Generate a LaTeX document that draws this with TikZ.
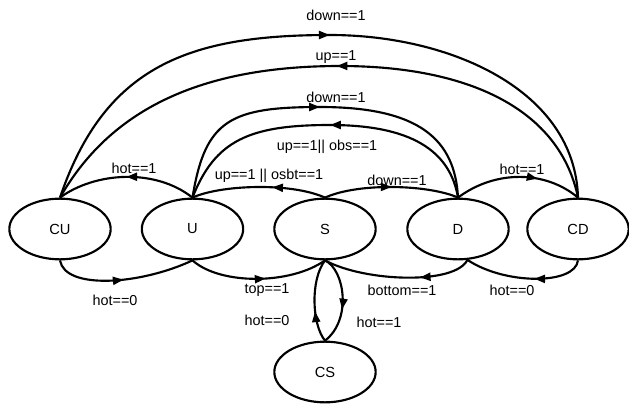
\documentclass[tikz,border=0pt]{standalone}
\usepackage{fontspec}
\setmainfont{Liberation Sans}
\usetikzlibrary{shapes.geometric,decorations.markings,arrows.meta}
\begin{document}
\begin{tikzpicture}[x=0.75pt,y=-0.75pt,
  state/.style={draw,ellipse,line width=1.6pt,minimum width=76pt,minimum height=45.5pt,inner sep=0pt,font=\fontsize{11}{13}\selectfont},
  edge/.style={line width=1.6pt},
  lbl/.style={font=\fontsize{10.8}{13}\selectfont,inner sep=0pt},
  amark/.style={postaction={decorate},decoration={markings,mark=at position #1 with {\arrow{Triangle[length=8pt,width=6pt]}}}}]
\useasboundingbox (0,0) rectangle (629,404);
\node[state] (CU) at (60,229) {CU};
\node[state] (U) at (192.5,229) {U};
\node[state] (S) at (325,229) {S};
\node[state] (D) at (458,229) {D};
\node[state] (CD) at (578,229) {CD};
\node[state] (CS) at (325,372) {CS};
% top long arcs
\coordinate (p1) at (330,35);
\draw[edge,amark=0.999] (CU.north) .. controls (105,65) and (190,35) .. (p1);
\draw[edge] (p1) .. controls (450,35) and (575,90) .. (CD.north);
\coordinate (p2) at (340,66);
\draw[edge] (CD.north) .. controls (560,110) and (470,66) .. (p2);
\draw[edge,amark=0.01] (p2) .. controls (200,66) and (110,110) .. (CU.north);
\coordinate (p3) at (320,107);
\draw[edge,amark=0.999] (U.north) .. controls (205,120) and (230,107) .. (p3);
\draw[edge] (p3) .. controls (420,107) and (455,140) .. (D.north);
\coordinate (p4) at (330,125);
\draw[edge,amark=0.999] (D.north) .. controls (450,150) and (410,125) .. (p4);
\draw[edge] (p4) .. controls (250,125) and (215,140) .. (U.north);
% neighbour arcs
\draw[edge,amark=0.5] (U.north) .. controls (155,168) and (95,172) .. (CU.north);
\draw[edge,amark=0.4] (S.north) .. controls (290,182) and (220,185) .. (U.north);
\draw[edge,amark=0.5] (S.north) .. controls (360,182) and (430,185) .. (D.north);
\draw[edge,amark=0.65] (D.north) .. controls (495,170) and (545,170) .. (CD.north);
% bottom arcs
\draw[edge,amark=0.5] (CU.south) .. controls (65,290) and (140,285) .. (U.south);
\draw[edge,amark=0.55] (U.south) .. controls (220,285) and (290,285) .. (S.south);
\draw[edge,amark=0.35] (D.-73) .. controls (455,285) and (365,282) .. (S.south);
\draw[edge,amark=0.42] (CD.south) .. controls (575,285) and (505,285) .. (D.-73);
\draw[edge,amark=0.37] (CS.north) .. controls (312,325) and (310,280) .. (S.south);
\draw[edge,amark=0.6] (S.south) .. controls (345,270) and (352,320) .. (CS.north);
% labels
\node[lbl] (l1) at (336,15) {down==1};
\node[lbl] (l2) at (336,57) {up==1};
\node[lbl] (l3) at (336,97) {down==1};
\node[lbl] (l4) at (327,147) {up==1|| obs==1};
\node[lbl] (l5) at (134,168) {hot==1};
\node[lbl] (l6) at (269,176) {up==1 || osbt==1};
\node[lbl] (l7) at (397,180) {down==1};
\node[lbl] (l8) at (522,169) {hot==1};
\node[lbl] (l9) at (115,300) {hot==0};
\node[lbl] (l10) at (267,290) {top==1};
\node[lbl] (l11) at (267,320) {hot==0};
\node[lbl] (l12) at (402,290) {bottom==1};
\node[lbl] (l13) at (512,290) {hot==0};
\node[lbl] (l14) at (379,322) {hot==1};
\end{tikzpicture}
\end{document}
